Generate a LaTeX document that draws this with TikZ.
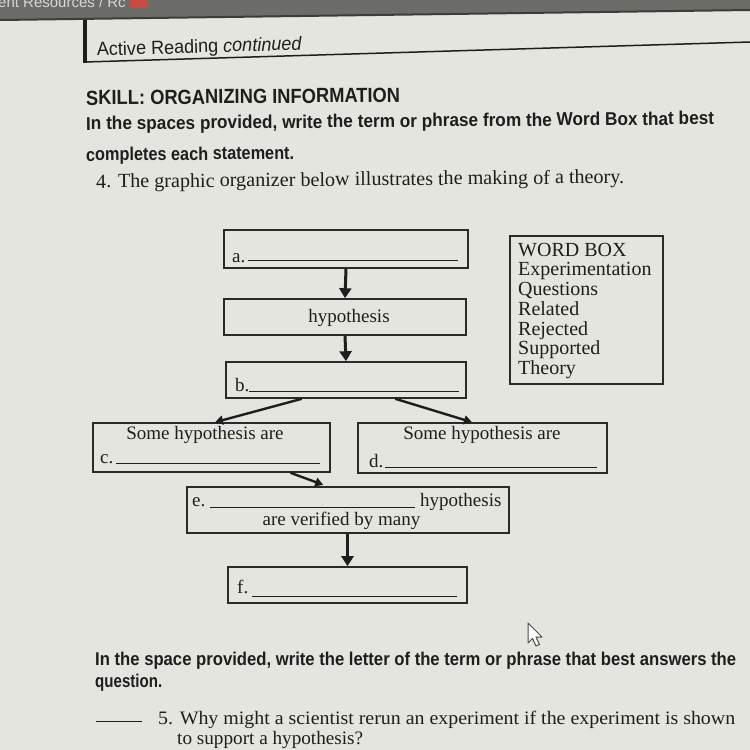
\documentclass[tikz,border=0pt]{standalone}
\usepackage{fontspec}
\usepackage{graphicx}
\setmainfont{Liberation Serif}
\newfontfamily\arial{Liberation Sans}
\usetikzlibrary{arrows.meta,calc}
\definecolor{paper}{HTML}{E5E5E0}
\definecolor{ink}{HTML}{1E1E1E}
\definecolor{boxc}{HTML}{2A2A2A}
\definecolor{band}{HTML}{6C6C68}
\definecolor{bandline}{HTML}{3C3C3A}
\definecolor{bandtext}{HTML}{D6D6D2}
\definecolor{iconred}{HTML}{C84A40}
\newlength\fitlen
\newcommand\xfit[2]{\settowidth\fitlen{#2}\scalebox{\fpeval{#1/\fitlen}}[1]{#2}}
\begin{document}
\begin{tikzpicture}[x=1pt,y=-1pt,
  box/.style={draw=boxc, line width=1.6pt, inner sep=0pt, rectangle},
  lbl/.style={inner sep=0pt, text=ink, font=\fontsize{19}{22}\selectfont},
  wb/.style={inner sep=0pt, text=ink, anchor=base west, font=\fontsize{20}{22}\selectfont},
  sanshead/.style={inner sep=0pt, text=ink, anchor=base west},
  uline/.style={draw=ink, line width=0.8pt},
  bigarrow/.style={draw=ink, line width=3pt, -{Triangle[width=12pt,length=10pt]}},
  slantarrow/.style={draw=ink, line width=2.4pt, -{Triangle[width=9pt,length=8pt]}}
]
\useasboundingbox (0,0) rectangle (750,750);
\clip (0,0) rectangle (750,750);
\fill[paper] (0,0) rectangle (750,750);

% top band of the screen
\fill[band] (0,0) -- (750,0) -- (750,10) -- (0,20) -- cycle;
\draw[bandline, line width=2pt] (0,20) -- (750,10);
\node[sanshead, text=bandtext, font=\arial\fontsize{15}{15}\selectfont] (toptext) at (-2,7) {ent Resources / Rc};
\fill[iconred] (130,0) rectangle (148,8);

% header
\draw[ink, line width=3.5pt] (85,20) -- (85,63);
\draw[ink, line width=1.5pt] (85,62) -- (750,42);
\node[sanshead, rotate=1.7, font=\arial\fontsize{19}{22}\selectfont] (active) at (97,56) {\xfit{205}{Active Reading \textit{continued}}};

\node[sanshead, rotate=0.5, font=\arial\bfseries\fontsize{20.5}{22}\selectfont] (skill) at (86,105) {\xfit{314}{SKILL: ORGANIZING INFORMATION}};
\node[sanshead, rotate=0.5, font=\arial\bfseries\fontsize{18.5}{20}\selectfont] (instr1) at (86,130) {\xfit{628}{In the spaces provided, write the term or phrase from the Word Box that best}};
\node[sanshead, rotate=0.5, font=\arial\bfseries\fontsize{18.5}{20}\selectfont] (instr2) at (86,161) {\xfit{208}{completes each statement.}};
\node[sanshead, rotate=0.5, font=\fontsize{20}{22}\selectfont] (q4) at (96,188) {\xfit{528}{4. The graphic organizer below illustrates the making of a theory.}};

% boxes
\node[box, minimum width=244, minimum height=38] (a) at (346,249) {};
\node[box, minimum width=242, minimum height=36] (hyp) at (345,317) {};
\node[box, minimum width=240, minimum height=36] (b) at (346,380) {};
\node[box, minimum width=237, minimum height=49] (c) at (211.5,447.5) {};
\node[box, minimum width=249, minimum height=50] (d) at (482.5,448) {};
\node[box, minimum width=322, minimum height=46] (e) at (348,510) {};
\node[box, minimum width=239, minimum height=36] (f) at (347.5,585) {};
\node[box, minimum width=153, minimum height=148] (wordbox) at (586.5,310) {};

% box texts
\node[lbl, anchor=base west] (la) at (232,262) {a.};
\draw[uline] (248,260) -- (458,260);
\node[lbl, anchor=base] (lhyp) at (349,322) {hypothesis};
\node[lbl, anchor=base west] (lb) at (235,391) {b.};
\draw[uline] (249,391) -- (459,391);
\node[lbl, anchor=base] (lc1) at (205,439) {Some hypothesis are};
\node[lbl, anchor=base west] (lc) at (100,463) {c.};
\draw[uline] (116,463) -- (320,463);
\node[lbl, anchor=base] (ld1) at (482,439) {Some hypothesis are};
\node[lbl, anchor=base west] (ld) at (369,467) {d.};
\draw[uline] (385,467) -- (597,467);
\node[lbl, anchor=base west] (le) at (192,506) {e.};
\draw[uline] (210,507) -- (415,507);
\node[lbl, anchor=base west] (le2) at (420,506) {hypothesis};
\node[lbl, anchor=base] (le3) at (341.5,525) {are verified by many};
\node[lbl, anchor=base west] (lf) at (237,593) {f.};
\draw[uline] (252,596) -- (457,596);

% word box
\node[wb] (wb1) at (518,256) {WORD BOX};
\node[wb] (wb2) at (518,275) {Experimentation};
\node[wb] (wb3) at (518,295) {Questions};
\node[wb] (wb4) at (518,315) {Related};
\node[wb] (wb5) at (518,335) {Rejected};
\node[wb] (wb6) at (518,354) {Supported};
\node[wb] (wb7) at (518,374) {Theory};

% connectors
\draw[bigarrow] (a.south) -- (hyp.north);
\draw[bigarrow] (hyp.south) -- (b.north);
\draw[slantarrow] ($(b.south west)!0.317!(b.south east)$) -- ($(c.north west)!0.515!(c.north east)$);
\draw[slantarrow] ($(b.south west)!0.704!(b.south east)$) -- ($(d.north west)!0.458!(d.north east)$);
\draw[slantarrow, shorten >=4pt] ($(c.south west)!0.831!(c.south east)$) -- ($(e.north west)!0.435!(e.north east)$);
\draw[bigarrow] (e.south -| f.north) -- (f.north);

% cursor
\draw[fill=white!90!paper, draw=ink!80, line width=1pt, line join=round]
  (528,623) -- (528,643) -- (532.5,638.5) -- (536,646) -- (539.5,644.5) -- (536,637) -- (542,637) -- cycle;

% bottom text
\node[sanshead, font=\arial\bfseries\fontsize{18.5}{20}\selectfont] (instr3) at (95,665) {\xfit{641}{In the space provided, write the letter of the term or phrase that best answers the}};
\node[sanshead, font=\arial\bfseries\fontsize{18.5}{20}\selectfont] (instr4) at (95,687) {\xfit{67}{question.}};
\draw[ink, line width=0.9pt] (96,721) -- (142,721);
\node[sanshead, font=\fontsize{19}{21}\selectfont] (q5a) at (158,724) {\xfit{577}{5. Why might a scientist rerun an experiment if the experiment is shown}};
\node[sanshead, font=\fontsize{19}{21}\selectfont] (q5b) at (177,744) {\xfit{186}{to support a hypothesis?}};
\end{tikzpicture}
\end{document}
